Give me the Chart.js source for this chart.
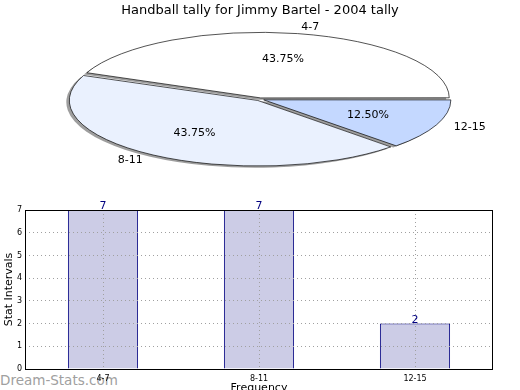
<!DOCTYPE html>
<html>
<head>
<meta charset="utf-8">
<script src="https://cdn.jsdelivr.net/npm/chart.js@4.4.0/dist/chart.umd.min.js"></script>
<style>
  body { margin: 0; width: 520px; height: 390px; overflow: hidden; background: #fff; position: relative; font-family: 'DejaVu Sans', sans-serif; }
  #pieChart { position: absolute; left: 0; top: 0; }
  #barChart { position: absolute; left: 0; top: 200px; z-index: 2; }
  #mark { position: absolute; left: 0; top: 372px; font-size: 13.5px; color: #a0a0a0; z-index: 1; }
</style>
</head>
<body>
<canvas id="pieChart" width="520" height="180"></canvas>
<div id="mark">Dream-Stats.com</div>
<canvas id="barChart" width="520" height="190"></canvas>
<script>
var titleText = 'Handball tally for Jimmy Bartel - 2004 tally';
var categories = ['4-7', '8-11', '12-15'];
var tally = [7, 7, 2];
var sliceColors = ['#ffffff', '#eaf1fe', '#c4d8ff'];
var yTicks = [0, 1, 2, 3, 4, 5, 6, 7];

Chart.defaults.font.family = "'DejaVu Sans', sans-serif";
Chart.defaults.color = '#000';

var squash = 0.348;
var total = tally.reduce(function(a, b) { return a + b; }, 0);

// matplotlib draws counter-clockwise from east, chart.js clockwise -> reverse
var pieLabels = categories.slice().reverse();
var pieData = tally.slice().reverse();
var pieColors = sliceColors.slice().reverse();

var squashPie = {
    id: 'squashPie',
    beforeDatasetsDraw: function(chart) {
        var ctx = chart.ctx;
        var arcs = chart.getDatasetMeta(0).data;
        var cy = arcs[0].y;
        ctx.save();
        ctx.translate(0, cy);
        ctx.scale(1, squash);
        ctx.translate(0, -cy);
        // grey shadow copy of every wedge, behind the real ones
        ctx.save();
        ctx.translate(-3, 5);
        arcs.forEach(function(arc) {
            var saved = arc.options;
            arc.options = Object.assign({}, saved, { backgroundColor: 'rgba(0,0,0,0.38)', borderWidth: 0 });
            arc.draw(ctx);
            arc.options = saved;
        });
        ctx.restore();
    },
    afterDatasetsDraw: function(chart) {
        var ctx = chart.ctx;
        ctx.restore();
        var arcs = chart.getDatasetMeta(0).data;
        ctx.save();
        ctx.font = "11px 'DejaVu Sans'";
        ctx.fillStyle = '#000';
        ctx.textBaseline = 'middle';
        arcs.forEach(function(arc, i) {
            var mid = (arc.startAngle + arc.endAngle) / 2;
            var circ = arc.endAngle - arc.startAngle;
            var shift = (arc.options.offset / 4) * (2 - Math.sin(Math.min(Math.PI, circ)));
            var r = arc.outerRadius;
            var c = Math.cos(mid), s = Math.sin(mid);
            // category label
            var lx = arc.x + c * (r * 1.1 + shift);
            var ly = arc.y + s * (r * 1.1 + shift) * squash;
            ctx.textAlign = c >= 0 ? 'left' : 'right';
            ctx.fillText(pieLabels[i], lx, ly);
            // percentage
            var px = arc.x + c * (r * 0.6 + shift);
            var py = arc.y + s * (r * 0.6 + shift) * squash;
            ctx.textAlign = 'center';
            ctx.fillText((pieData[i] / total * 100).toFixed(2) + '%', px, py);
        });
        ctx.restore();
    }
};

new Chart(document.getElementById('pieChart'), {
    type: 'pie',
    data: {
        labels: pieLabels,
        datasets: [{
            data: pieData,
            backgroundColor: pieColors,
            borderColor: '#000',
            borderWidth: 1,
            offset: 16,
            hoverOffset: 16,
            clip: false
        }]
    },
    options: {
        responsive: false,
        animation: false,
        rotation: 90,
        radius: 186,
        events: [],
        plugins: {
            legend: { display: false },
            tooltip: { enabled: false },
            title: {
                display: true,
                text: titleText,
                color: '#000',
                font: { size: 13, weight: 'normal' },
                padding: { top: 3, bottom: 0 }
            }
        }
    },
    plugins: [squashPie]
});

var frameAndValues = {
    id: 'frameAndValues',
    afterDraw: function(chart) {
        var ctx = chart.ctx;
        var ca = chart.chartArea;
        ctx.save();
        ctx.strokeStyle = '#000';
        ctx.lineWidth = 1;
        ctx.strokeRect(ca.left + 0.5, ca.top + 0.5, ca.right - ca.left - 1, ca.bottom - ca.top);
        ctx.fillStyle = '#000080';
        ctx.font = "11px 'DejaVu Sans'";
        ctx.textAlign = 'center';
        ctx.textBaseline = 'bottom';
        chart.getDatasetMeta(0).data.forEach(function(bar, i) {
            ctx.fillText(String(tally[i]), bar.x, bar.y + 2);
        });
        ctx.restore();
    }
};

new Chart(document.getElementById('barChart'), {
    type: 'bar',
    data: {
        labels: categories,
        datasets: [{
            data: tally,
            backgroundColor: '#ccccE6',
            borderColor: '#000080',
            borderWidth: 1,
            barPercentage: 0.45,
            categoryPercentage: 1
        }]
    },
    options: {
        responsive: false,
        animation: false,
        events: [],
        layout: { padding: { top: 10, right: 27, left: 0, bottom: 0 } },
        plugins: { legend: { display: false }, tooltip: { enabled: false } },
        scales: {
            x: {
                grid: { z: 1, offset: false, color: '#a0a0a0', drawTicks: false },
                border: { display: false, dash: [1, 3] },
                ticks: { padding: 5, font: { size: 8 }, color: '#000' },
                title: { display: true, text: 'Frequency', color: '#000', font: { size: 11 }, padding: { top: 0, bottom: -5 } },
                afterFit: function(s) { s.height = 21; }
            },
            y: {
                min: 0,
                max: 7,
                afterBuildTicks: function(s) { s.ticks = yTicks.map(function(v) { return { value: v }; }); },
                grid: { z: 1, color: '#a0a0a0', drawTicks: false },
                border: { display: false, dash: [1, 3] },
                ticks: { padding: 3, font: { size: 8 }, color: '#000' },
                title: { display: true, text: 'Stat Intervals', color: '#000', font: { size: 11 }, padding: { top: 3, bottom: 0 } },
                afterFit: function(s) { s.width = 25; }
            }
        }
    },
    plugins: [frameAndValues]
});
</script>
</body>
</html>
